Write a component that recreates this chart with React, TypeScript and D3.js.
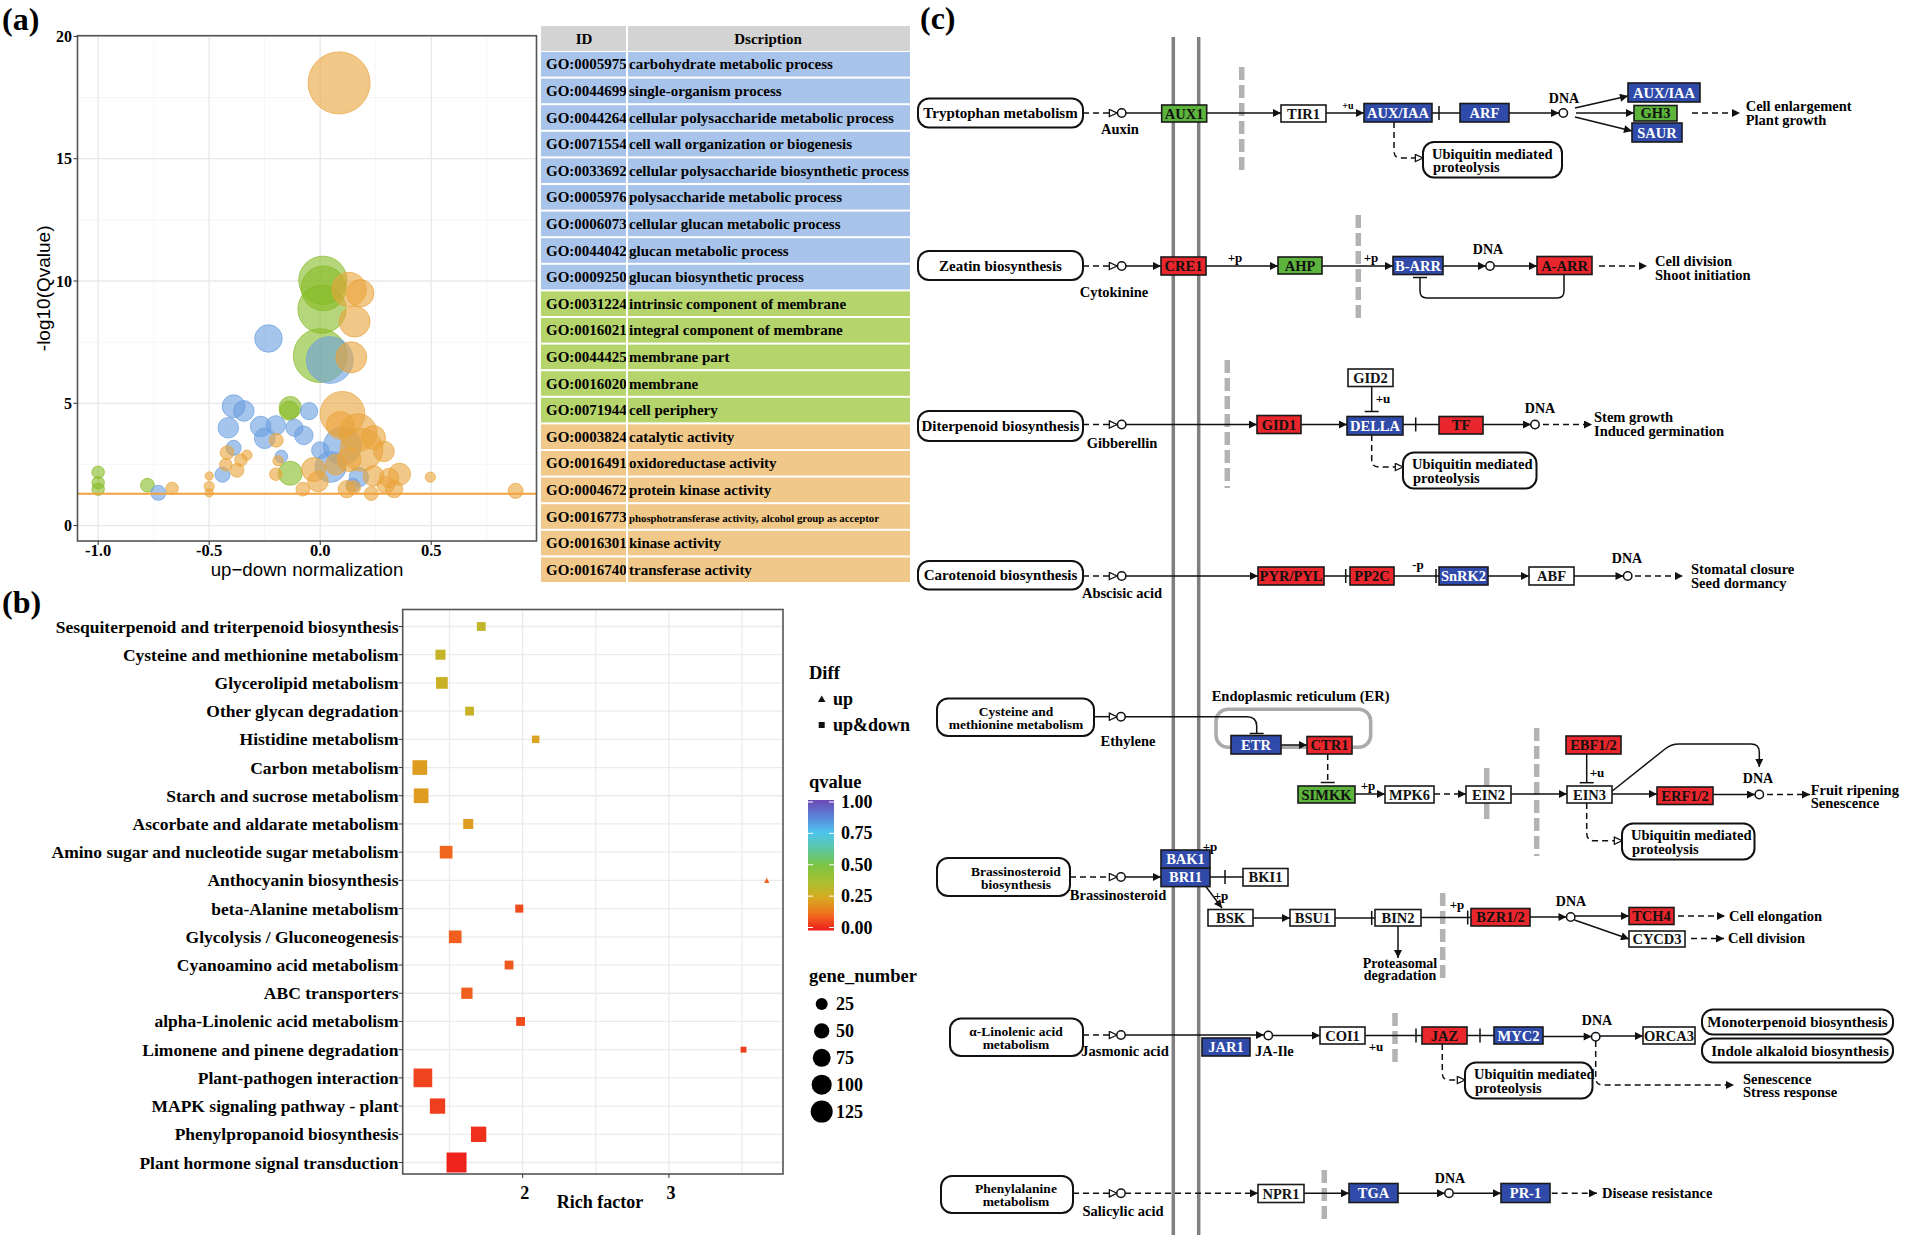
import React from "react";
import * as d3 from "d3";

const SERIF = "'Liberation Serif', 'Times New Roman', serif";
const SANS = "'Liberation Sans', Arial, sans-serif";

// ---------- (a) GO bubble plot: [up-down normalization, -log10(Qvalue), gene count]
const bpBubbles: [number, number, number][] = [
  [0.043, 6.77, 251], [-0.233, 7.65, 87], [-0.39, 4.88, 60], [-0.344, 4.69, 49],
  [-0.414, 4.0, 49], [-0.268, 4.05, 49], [-0.25, 3.57, 49], [-0.2, 4.1, 43],
  [-0.116, 4.0, 34], [-0.074, 3.69, 40], [-0.05, 4.68, 34], [-0.39, 3.18, 26],
  [-0.44, 2.08, 26], [-0.175, 2.83, 18], [0.0, 3.08, 34], [0.047, 2.4, 110],
  [0.1, 3.26, 164], [0.174, 1.98, 43], [0.147, 1.65, 22], [-0.729, 1.34, 26],
];
const ccBubbles: [number, number, number][] = [
  [0.012, 10.03, 267], [0.015, 9.7, 230], [0.008, 8.85, 267], [0.0, 6.95, 332],
  [-0.135, 4.83, 56], [-0.14, 4.7, 43], [-0.135, 2.14, 66], [-1.0, 2.18, 18],
  [-1.0, 1.75, 18], [-1.0, 1.49, 18], [-0.778, 1.65, 22],
];
const mfBubbles: [number, number, number][] = [
  [0.085, 18.1, 441], [0.13, 9.65, 136], [0.18, 9.5, 87], [0.155, 8.34, 110],
  [0.14, 6.88, 110], [0.1, 4.57, 230], [0.17, 3.8, 164], [0.186, 3.1, 209],
  [0.24, 3.6, 66], [0.287, 3.03, 49], [0.09, 4.1, 87], [0.07, 2.49, 49],
  [-0.03, 2.29, 66], [-0.01, 1.8, 49], [-0.078, 1.49, 22], [0.12, 1.49, 34],
  [0.23, 1.31, 22], [0.24, 2.03, 49], [0.31, 1.95, 43], [0.357, 2.1, 56],
  [0.295, 1.65, 34], [0.333, 1.49, 34], [0.496, 1.98, 12], [0.88, 1.42, 26],
  [-0.419, 2.98, 22], [-0.425, 2.49, 18], [-0.375, 2.26, 22], [-0.357, 2.68, 18],
  [-0.33, 2.88, 12], [-0.198, 3.49, 22], [-0.19, 2.65, 12], [-0.2, 2.1, 18],
  [-0.5, 2.03, 8], [-0.5, 1.6, 12], [-0.5, 1.34, 8], [-0.667, 1.52, 18],
  [0.15, 1.55, 22], [0.13, 2.7, 66],
];
const qThreshold = 1.301;

const goIds = [
  "GO:0005975", "GO:0044699", "GO:0044264", "GO:0071554", "GO:0033692",
  "GO:0005976", "GO:0006073", "GO:0044042", "GO:0009250", "GO:0031224",
  "GO:0016021", "GO:0044425", "GO:0016020", "GO:0071944", "GO:0003824",
  "GO:0016491", "GO:0004672", "GO:0016773", "GO:0016301", "GO:0016740",
];
const goDescriptions = [
  "carbohydrate metabolic process", "single-organism process",
  "cellular polysaccharide metabolic process", "cell wall organization or biogenesis",
  "cellular polysaccharide biosynthetic process", "polysaccharide metabolic process",
  "cellular glucan metabolic process", "glucan metabolic process",
  "glucan biosynthetic process", "intrinsic component of membrane",
  "integral component of membrane", "membrane part", "membrane", "cell periphery",
  "catalytic activity", "oxidoreductase activity", "protein kinase activity",
  "phosphotransferase activity, alcohol group as acceptor", "kinase activity",
  "transferase activity",
];
const goCategories = [
  "BP", "BP", "BP", "BP", "BP", "BP", "BP", "BP", "BP",
  "CC", "CC", "CC", "CC", "CC",
  "MF", "MF", "MF", "MF", "MF", "MF",
];

// ---------- (b) KEGG enrichment
const pathways = [
  "Sesquiterpenoid and triterpenoid biosynthesis", "Cysteine and methionine metabolism",
  "Glycerolipid metabolism", "Other glycan degradation", "Histidine metabolism",
  "Carbon metabolism", "Starch and sucrose metabolism", "Ascorbate and aldarate metabolism",
  "Amino sugar and nucleotide sugar metabolism", "Anthocyanin biosynthesis",
  "beta-Alanine metabolism", "Glycolysis / Gluconeogenesis", "Cyanoamino acid metabolism",
  "ABC transporters", "alpha-Linolenic acid metabolism", "Limonene and pinene degradation",
  "Plant-pathogen interaction", "MAPK signaling pathway - plant",
  "Phenylpropanoid biosynthesis", "Plant hormone signal transduction",
];
const richFactor = [1.717, 1.438, 1.448, 1.637, 2.089, 1.297, 1.306, 1.628, 1.477, 3.669,
  1.977, 1.539, 1.907, 1.619, 1.986, 3.51, 1.318, 1.418, 1.699, 1.548];
const qValues = [0.31, 0.3, 0.29, 0.29, 0.24, 0.22, 0.22, 0.22, 0.11, 0.1,
  0.07, 0.1, 0.09, 0.1, 0.07, 0.05, 0.06, 0.05, 0.03, 0.01];
const geneNumbers = [11, 17, 27, 11, 6, 51, 51, 17, 34, 1, 8, 34, 11, 24, 11, 2, 95, 57, 57, 112];
const diffTypes = ["both", "both", "both", "both", "both", "both", "both", "both", "both", "up",
  "both", "both", "both", "both", "both", "both", "both", "both", "both", "both"];
const richTicks = [2, 3];
const qTicks = [1, 0.75, 0.5, 0.25, 0];
const geneLegend = [25, 50, 75, 100, 125];

// ---------- (c) plant hormone signal transduction (gene status)
const upGenes = ["CRE1", "A-ARR", "GID1", "TF", "PYR/PYL", "PP2C", "CTR1", "EBF1/2", "ERF1/2", "BZR1/2", "TCH4", "JAZ"];
const downGenes = ["AUX/IAA", "ARF", "SAUR", "B-ARR", "DELLA", "SnRK2", "ETR", "BAK1", "BRI1", "JAR1", "MYC2", "TGA", "PR-1"];
const mixedGenes = ["AUX1", "GH3", "AHP", "SIMKK"];

// layout of the pathway map: label, x, y, w, h
const geneBoxes: [string, number, number, number, number][] = [
  ["AUX1", 1161.7, 105, 45, 17], ["TIR1", 1281, 105, 45, 17], ["AUX/IAA", 1364, 103.5, 68, 18.5],
  ["ARF", 1460, 103.5, 49, 18.5], ["AUX/IAA", 1628, 83, 72, 19], ["GH3", 1634, 105.5, 43, 15.5],
  ["SAUR", 1632, 123, 50, 19],
  ["CRE1", 1161, 257, 45, 18], ["AHP", 1278, 257, 44, 17], ["B-ARR", 1393, 256.5, 50, 18],
  ["A-ARR", 1537, 256.5, 55, 18],
  ["GID1", 1257, 415.5, 44, 18], ["DELLA", 1347, 416.5, 56, 18.5], ["GID2", 1348, 369, 45, 17.5],
  ["TF", 1439, 416.5, 44, 17.5],
  ["PYR/PYL", 1258, 567, 66, 18], ["PP2C", 1350, 567, 44, 18], ["SnRK2", 1439, 567, 49, 18],
  ["ABF", 1529, 567, 45, 18],
  ["ETR", 1231, 735.5, 50, 18.5], ["CTR1", 1307, 736.5, 45, 17.5], ["SIMKK", 1298, 786, 57, 17],
  ["MPK6", 1385, 786, 49, 17], ["EIN2", 1466, 786, 45, 17], ["EIN3", 1567, 786, 45, 17],
  ["EBF1/2", 1566, 736, 55, 18], ["ERF1/2", 1657, 787, 56, 17.5],
  ["BAK1", 1161, 850, 49, 18.3], ["BRI1", 1161, 868.3, 49, 18.3], ["BKI1", 1243, 868.5, 45, 17.5],
  ["BSK", 1208, 909.5, 45, 16.5], ["BSU1", 1290, 909.5, 45, 16.5], ["BIN2", 1375, 909.5, 46, 16.5],
  ["BZR1/2", 1471, 908.5, 59, 17.5], ["TCH4", 1629, 907.5, 45, 17], ["CYCD3", 1629, 931, 56, 16],
  ["JAR1", 1202, 1038, 48, 18], ["COI1", 1320, 1027, 45, 17], ["JAZ", 1422, 1027, 45, 17],
  ["MYC2", 1494, 1027, 49, 17], ["ORCA3", 1643, 1027, 52, 17],
  ["NPR1", 1258, 1184.5, 46, 18], ["TGA", 1349, 1183.5, 49, 19], ["PR-1", 1501, 1183.5, 49, 19],
];

const mapBoxes: [string[], number, number, number, number, number][] = [
  [["Tryptophan metabolism"], 918, 98.5, 165, 29, 1000.5],
  [["Zeatin biosynthesis"], 918, 251, 165, 29, 1000.5],
  [["Diterpenoid biosynthesis"], 918, 411, 165, 30, 1000.5],
  [["Carotenoid biosynthesis"], 918, 561, 165, 28.5, 1000.5],
  [["Cysteine and", "methionine metabolism"], 937, 698.5, 157, 37.5, 1016],
  [["Brassinosteroid", "biosynthesis"], 937, 858, 133, 38, 1016],
  [["α-Linolenic acid", "metabolism"], 950, 1018.5, 133, 37.5, 1016],
  [["Phenylalanine", "metabolism"], 941, 1176, 132, 37, 1016],
  [["Monoterpenoid biosynthesis"], 1702, 1009.5, 191, 25, 1797.5],
  [["Indole alkaloid biosynthesis"], 1702, 1038.5, 191, 24, 1800],
];
const ubiquitinBoxes: [number, number, number, number][] = [
  [1423, 142, 139, 35.5], [1403, 452.5, 133.5, 36], [1622, 823.5, 132.5, 36], [1465, 1062.5, 127.5, 36],
];
const compounds: [number, number][] = [
  [1121.7, 113], [1563.3, 113], [1121.7, 266], [1490, 266], [1121.7, 424.5], [1535, 424.5],
  [1121.7, 576], [1627.7, 576], [1121, 716.7], [1759.3, 794.5], [1121, 877], [1570.7, 917],
  [1121, 1035], [1268.3, 1035.5], [1595.7, 1036.7], [1121, 1193.3], [1449, 1193.3],
];

type Edge = { d: string; dash?: boolean; end?: "arrow" | "open" };
const edges: Edge[] = [
  { d: "M1083,113 H1117", dash: true, end: "open" }, { d: "M1126,113 H1161.7" },
  { d: "M1206.7,113 H1281", end: "arrow" }, { d: "M1326,113 H1364", end: "arrow" },
  { d: "M1432,113 H1460" }, { d: "M1509,113 H1559", end: "arrow" },
  { d: "M1575,108 L1628,96", end: "arrow" }, { d: "M1576,113 H1634", end: "arrow" },
  { d: "M1575,117 L1632,131", end: "arrow" }, { d: "M1692,113 H1740", dash: true, end: "arrow" },
  { d: "M1394,122 V151 Q1394,158 1401,158 H1423", dash: true, end: "open" },

  { d: "M1083,266 H1117", dash: true, end: "open" }, { d: "M1126,266 H1161", end: "arrow" },
  { d: "M1206,266 H1278", end: "arrow" }, { d: "M1322,266 H1393", end: "arrow" },
  { d: "M1443,266 H1486", end: "arrow" }, { d: "M1494,266 H1537", end: "arrow" },
  { d: "M1599,266 H1647", dash: true, end: "arrow" },
  { d: "M1564,274.5 V291 Q1564,298 1557,298 H1427 Q1420,298 1420,291 V278" },

  { d: "M1083,424.5 H1117", dash: true, end: "open" }, { d: "M1126,424.5 H1257", end: "arrow" },
  { d: "M1301,424.5 H1347", end: "arrow" }, { d: "M1371.7,386.5 V411.5" },
  { d: "M1403,424.5 H1439" }, { d: "M1483,424.5 H1531", end: "arrow" },
  { d: "M1543,424.5 H1592", dash: true, end: "arrow" },
  { d: "M1371.7,435 V460 Q1371.7,467 1379,467 H1403", dash: true, end: "open" },

  { d: "M1083,576 H1117", dash: true, end: "open" }, { d: "M1126,576 H1258", end: "arrow" },
  { d: "M1324,576 H1350" }, { d: "M1394,576 H1439" }, { d: "M1488,576 H1529", end: "arrow" },
  { d: "M1574,576 H1623.5", end: "arrow" }, { d: "M1635,576 H1683", dash: true, end: "arrow" },

  { d: "M1094,716.7 H1117", end: "open" },
  { d: "M1125,716.7 H1247 Q1256.7,716.7 1256.7,726 V733" },
  { d: "M1281,745 H1307", end: "arrow" }, { d: "M1327.7,754 V782", dash: true },
  { d: "M1355,794 H1385", end: "arrow" }, { d: "M1434,794 H1466", dash: true, end: "arrow" },
  { d: "M1511,794 H1567", end: "arrow" }, { d: "M1586.7,754 V782.5" },
  { d: "M1612,794 H1657", end: "arrow" }, { d: "M1713,794.5 H1755", end: "arrow" },
  { d: "M1612.3,791 L1665,749 Q1671,744 1679,744 H1751 Q1759.3,744 1759.3,752 V767", end: "arrow" },
  { d: "M1767,794.5 H1810", dash: true, end: "arrow" },
  { d: "M1586.7,803 V833 Q1586.7,840.7 1594,840.7 H1622", dash: true, end: "open" },

  { d: "M1070,877 H1117", dash: true, end: "open" }, { d: "M1125,877 H1161", end: "arrow" },
  { d: "M1210,877 H1243" }, { d: "M1206,886.7 L1222,908", end: "arrow" },
  { d: "M1253,918 H1290", end: "arrow" }, { d: "M1335,918 H1375" }, { d: "M1421,917.5 H1471" },
  { d: "M1530,917 H1566.5", end: "arrow" }, { d: "M1575,916 H1629", end: "arrow" },
  { d: "M1574.5,920 L1629,939", end: "arrow" }, { d: "M1678,916 H1725", dash: true, end: "arrow" },
  { d: "M1691,938.5 H1724", dash: true, end: "arrow" }, { d: "M1398,926 V958", end: "arrow" },

  { d: "M1083,1035 H1117", dash: true, end: "open" }, { d: "M1125,1035 H1264", end: "arrow" },
  { d: "M1272.5,1035.5 H1320", end: "arrow" }, { d: "M1365,1035.5 H1422" },
  { d: "M1467,1035.5 H1494" }, { d: "M1543,1036.5 H1591.7", end: "arrow" },
  { d: "M1600,1036 H1643", end: "arrow" },
  { d: "M1442.3,1044 V1073 Q1442.3,1080 1449,1080 H1465", dash: true, end: "open" },
  { d: "M1595.7,1041 V1078 Q1595.7,1085 1603,1085 H1734", dash: true, end: "arrow" },

  { d: "M1073,1193.3 H1117", dash: true, end: "open" }, { d: "M1125,1193.3 H1258", dash: true, end: "arrow" },
  { d: "M1304,1193.3 H1349", end: "arrow" }, { d: "M1398,1193.3 H1445", end: "arrow" },
  { d: "M1453,1193.3 H1501", end: "arrow" }, { d: "M1551.7,1193.3 H1597", dash: true, end: "arrow" },
];
// inhibition bars: x, y, orientation
const bars: [number, number, "v" | "h"][] = [
  [1439, 113, "v"], [1420, 277.5, "h"], [1371.7, 411.5, "h"], [1415.7, 424.5, "v"],
  [1345.7, 576, "v"], [1436, 576, "v"], [1256.7, 733.5, "h"], [1327.7, 782.5, "h"],
  [1586.7, 782.7, "h"], [1225, 877, "v"], [1371.7, 918, "v"], [1467.7, 917.5, "v"],
  [1416, 1035.5, "v"], [1480, 1035.5, "v"],
];
const envelopes: [number, number, number, boolean][] = [
  [1241.7, 67, 173, true], [1358.3, 215, 323, true], [1227.3, 360, 488, true],
  [1486.7, 768, 819, false], [1536.7, 728, 856, true], [1442.7, 893, 983, true],
  [1395, 1013, 1063, true], [1324.3, 1170, 1221, true],
];
const labels: [string, number, number, "start" | "middle", number][] = [
  ["Auxin", 1120, 134, "middle", 14.5], ["Cytokinine", 1114, 297, "middle", 14.5],
  ["Gibberellin", 1122, 448, "middle", 14.5], ["Abscisic acid", 1122, 598, "middle", 14.5],
  ["Ethylene", 1128, 746, "middle", 14.5], ["Brassinosteroid", 1118, 900, "middle", 14.5],
  ["Jasmonic acid", 1125, 1056, "middle", 14.5], ["JA-Ile", 1255, 1056, "start", 14.5],
  ["Salicylic acid", 1123, 1216, "middle", 14.5],
  ["DNA", 1564, 103, "middle", 14], ["DNA", 1488, 254, "middle", 14], ["DNA", 1540, 413, "middle", 14],
  ["DNA", 1627, 563, "middle", 14], ["DNA", 1758, 783, "middle", 14], ["DNA", 1571, 906, "middle", 14],
  ["DNA", 1597, 1025, "middle", 14], ["DNA", 1450, 1183, "middle", 14],
  ["+u", 1348, 109, "middle", 10], ["+p", 1235, 262, "middle", 13], ["+p", 1371, 262, "middle", 13],
  ["+u", 1383, 403, "middle", 13], ["-p", 1418, 569, "middle", 13], ["+p", 1368, 790, "middle", 13],
  ["+u", 1597, 777, "middle", 13], ["+p", 1210, 851, "middle", 13], ["+p", 1221, 900, "middle", 13],
  ["+p", 1457, 909, "middle", 13], ["+u", 1376, 1051, "middle", 13],
  ["Cell enlargement", 1745.7, 111, "start", 14.5], ["Plant growth", 1745.7, 124.5, "start", 14.5],
  ["Cell division", 1655, 265.5, "start", 14.5], ["Shoot initiation", 1655, 279.5, "start", 14.5],
  ["Stem growth", 1594, 421.5, "start", 14.5], ["Induced germination", 1594, 435.5, "start", 14.5],
  ["Stomatal closure", 1691, 573.5, "start", 14.5], ["Seed dormancy", 1691, 588, "start", 14.5],
  ["Fruit ripening", 1810.7, 795, "start", 14.5], ["Senescence", 1810.7, 807.5, "start", 14.5],
  ["Cell elongation", 1729, 920.5, "start", 14.5], ["Cell division", 1728, 943, "start", 14.5],
  ["Proteasomal", 1400, 968, "middle", 14], ["degradation", 1400, 980, "middle", 14],
  ["Senescence", 1743, 1083.5, "start", 14.5], ["Stress response", 1743, 1097, "start", 14.5],
  ["Disease resistance", 1602, 1198, "start", 14.5],
  ["Endoplasmic reticulum (ER)", 1211.7, 701, "start", 14.5],
];

const groupColor: Record<string, string> = { BP: "#6a9ee0", CC: "#86bb25", MF: "#eaa43a" };
const tableFill: Record<string, string> = { BP: "#a9c4ea", CC: "#b6d46c", MF: "#f0c98a" };

function PanelA() {
  const x = d3.scaleLinear().domain([-1.093, 0.974]).range([77.5, 536.5]);
  const y = d3.scaleLinear().domain([-0.63, 20.03]).range([541, 35.7]);
  const r = d3.scaleSqrt().domain([0, 500]).range([0, 33]);
  const [x0, x1] = x.range();
  const [y0, y1] = y.range();
  const groups: [string, [number, number, number][]][] = [["CC", ccBubbles], ["BP", bpBubbles], ["MF", mfBubbles]];
  const rowH = 26.6;
  const tTop = 52;
  return (
    <g>
      <text x={2} y={30} fontSize={32} fontWeight="bold">(a)</text>
      {[-0.75, -0.25, 0.25, 0.75].map((v) => (
        <line key={"mx" + v} x1={x(v)} x2={x(v)} y1={y0} y2={y1} stroke="#f2f2f2" strokeWidth={0.7} />
      ))}
      {[2.5, 7.5, 12.5, 17.5].map((v) => (
        <line key={"my" + v} x1={x0} x2={x1} y1={y(v)} y2={y(v)} stroke="#f2f2f2" strokeWidth={0.7} />
      ))}
      {[-1, -0.5, 0, 0.5].map((v) => (
        <line key={"gx" + v} x1={x(v)} x2={x(v)} y1={y0} y2={y1} stroke="#e8e8e8" strokeWidth={1.3} />
      ))}
      {[0, 5, 10, 15, 20].map((v) => (
        <line key={"gy" + v} x1={x0} x2={x1} y1={y(v)} y2={y(v)} stroke="#e8e8e8" strokeWidth={1.3} />
      ))}
      {groups.map(([g, pts]) =>
        pts.map((p, i) => (
          <circle key={g + i} cx={x(p[0])} cy={y(p[1])} r={r(p[2])} fill={groupColor[g]}
            fillOpacity={0.6} stroke={groupColor[g]} strokeOpacity={0.7} strokeWidth={1} />
        ))
      )}
      <line x1={x0} x2={x1} y1={y(qThreshold)} y2={y(qThreshold)} stroke="#f2a23c" strokeWidth={1.8} />
      <rect x={x0} y={y1} width={x1 - x0} height={y0 - y1} fill="none" stroke="#555" strokeWidth={1.6} />
      {[0, 5, 10, 15, 20].map((v) => (
        <g key={"ty" + v}>
          <line x1={x0 - 4} x2={x0} y1={y(v)} y2={y(v)} stroke="#333" />
          <text x={x0 - 5.5} y={y(v) + 5.5} textAnchor="end" fontSize={16} fontWeight="bold">{v}</text>
        </g>
      ))}
      {[-1, -0.5, 0, 0.5].map((v) => (
        <g key={"tx" + v}>
          <line x1={x(v)} x2={x(v)} y1={y0} y2={y0 + 4} stroke="#333" />
          <text x={x(v)} y={y0 + 15} textAnchor="middle" fontSize={16.5} fontWeight="bold">{d3.format(".1f")(v).replace("−", "-")}</text>
        </g>
      ))}
      <text x={(x0 + x1) / 2} y={576} textAnchor="middle" fontFamily={SANS} fontSize={18.7}>up−down normalization</text>
      <text transform={`translate(50,${(y0 + y1) / 2}) rotate(-90)`} textAnchor="middle" fontFamily={SANS} fontSize={19}>-log10(Qvalue)</text>

      <rect x={541} y={26} width={369} height={25} fill="#d3d3d3" />
      <text x={584} y={44} textAnchor="middle" fontSize={15} fontWeight="bold">ID</text>
      <text x={768} y={44} textAnchor="middle" fontSize={15} fontWeight="bold">Dscription</text>
      {goIds.map((id, i) => {
        const ty = tTop + i * rowH;
        return (
          <g key={id}>
            <rect x={541} y={ty} width={369} height={rowH - 2} fill={tableFill[goCategories[i]]} />
            <text x={546} y={ty + rowH / 2 + 4} fontSize={15} fontWeight="bold">{id}</text>
            <text x={629} y={ty + rowH / 2 + 4} fontSize={goDescriptions[i].length > 46 ? 10.8 : 15} fontWeight="bold">{goDescriptions[i]}</text>
          </g>
        );
      })}
      <line x1={627} x2={627} y1={26} y2={tTop + 20 * rowH} stroke="#fff" strokeWidth={2} />
    </g>
  );
}

function PanelB() {
  const x = d3.scaleLinear().domain([1.18, 3.78]).range([402.7, 783]);
  const y = d3.scalePoint<string>().domain(pathways).range([626.5, 1162.5]);
  const [x0, x1] = x.range();
  const top = 609.5, bottom = 1174;
  const diam = d3.scaleLinear().domain([5, Math.sqrt(125)]).range([12, 22]);
  const qColor = d3.scaleLinear<string>()
    .domain([0, 0.125, 0.25, 0.375, 0.5, 0.625, 0.75, 0.875, 1])
    .range(["#ee1c1c", "#f0701e", "#d8aa22", "#a8c030", "#7cc444", "#5ac8a0", "#4ec4ee", "#5a82d8", "#6c48b4"]);
  const cy = d3.scaleLinear().domain([0, 1]).range([927.5, 802]);
  const stops = d3.range(0, 1.0001, 0.05);
  return (
    <g>
      <text x={2} y={613} fontSize={32} fontWeight="bold">(b)</text>
      <defs>
        <linearGradient id="qgrad" x1="0" y1="1" x2="0" y2="0">
          {stops.map((s) => <stop key={s} offset={`${s * 100}%`} stopColor={qColor(s)} />)}
        </linearGradient>
      </defs>
      {[1.5, 2, 2.5, 3, 3.5].map((v) => (
        <line key={"gx" + v} x1={x(v)} x2={x(v)} y1={top} y2={bottom} stroke="#ebebeb" strokeWidth={1.3} />
      ))}
      {pathways.map((p) => (
        <line key={"gy" + p} x1={x0} x2={x1} y1={y(p)} y2={y(p)} stroke="#ebebeb" strokeWidth={1.3} />
      ))}
      {pathways.map((p, i) => {
        const s = diam(Math.sqrt(geneNumbers[i])) * 0.95;
        const px = x(richFactor[i]);
        const py = y(p)!;
        if (diffTypes[i] === "up") {
          return <path key={p} d={`M${px},${py - s / 2} L${px + s / 2},${py + s / 2} L${px - s / 2},${py + s / 2} Z`} fill={qColor(qValues[i])} />;
        }
        return <rect key={p} x={px - s / 2} y={py - s / 2} width={s} height={s} fill={qColor(qValues[i])} />;
      })}
      <rect x={x0} y={top} width={x1 - x0} height={bottom - top} fill="none" stroke="#555" strokeWidth={1.6} />
      {pathways.map((p) => (
        <g key={"t" + p}>
          <line x1={x0 - 4} x2={x0} y1={y(p)} y2={y(p)} stroke="#333" />
          <text x={398.5} y={y(p)! + 6} textAnchor="end" fontSize={17.5} fontWeight="bold">{p}</text>
        </g>
      ))}
      {richTicks.map((v) => (
        <g key={"rt" + v}>
          <line x1={x(v)} x2={x(v)} y1={bottom} y2={bottom + 4} stroke="#333" />
          <text x={x(v) + 2} y={1199} textAnchor="middle" fontSize={18} fontWeight="bold">{v}</text>
        </g>
      ))}
      <text x={600} y={1208} textAnchor="middle" fontSize={18} fontWeight="bold">Rich factor</text>

      <text x={809} y={679} fontSize={18.5} fontWeight="bold">Diff</text>
      <path d="M821.7,695.5 L825.5,702 L817.9,702 Z" fill="#111" />
      <text x={833} y={705} fontSize={18} fontWeight="bold">up</text>
      <rect x={818.7} y={722} width={6} height={6} fill="#111" />
      <text x={833} y={731} fontSize={18} fontWeight="bold">up&amp;down</text>

      <text x={809} y={788} fontSize={18.5} fontWeight="bold">qvalue</text>
      <rect x={808} y={cy(1) - 2} width={26} height={cy(0) - cy(1) + 5} fill="url(#qgrad)" />
      {qTicks.map((q) => (
        <g key={"q" + q}>
          <line x1={808} x2={813} y1={cy(q)} y2={cy(q)} stroke="#fff" strokeWidth={1} />
          <line x1={829} x2={834} y1={cy(q)} y2={cy(q)} stroke="#fff" strokeWidth={1} />
          <text x={841} y={cy(q) + 6} fontSize={18} fontWeight="bold">{q.toFixed(2)}</text>
        </g>
      ))}

      <text x={809} y={982} fontSize={18.5} fontWeight="bold">gene_number</text>
      {geneLegend.map((n, i) => (
        <g key={"g" + n}>
          <circle cx={821.7} cy={1004 + i * 26.9} r={diam(Math.sqrt(n)) / 2} fill="#000" />
          <text x={836} y={1004 + i * 26.9 + 6} fontSize={18} fontWeight="bold">{n}</text>
        </g>
      ))}
    </g>
  );
}

function geneFill(label: string) {
  if (upGenes.includes(label)) return "#e8262b";
  if (downGenes.includes(label)) return "#2f4aa8";
  if (mixedGenes.includes(label)) return "#5cb43c";
  return "#fff";
}

function PanelC() {
  return (
    <g>
      <defs>
        <marker id="arr" viewBox="0 0 10 10" refX={10} refY={5} markerWidth={9} markerHeight={8}
          markerUnits="userSpaceOnUse" orient="auto">
          <path d="M0,0 L10,5 L0,10 Z" fill="#111" />
        </marker>
        <marker id="open" viewBox="0 0 10 10" refX={9.5} refY={5} markerWidth={10} markerHeight={9}
          markerUnits="userSpaceOnUse" orient="auto">
          <path d="M1,1 L9.5,5 L1,9 Z" fill="#fff" stroke="#111" strokeWidth={1.4} />
        </marker>
      </defs>
      <text x={920} y={29} fontSize={32} fontWeight="bold">(c)</text>
      <line x1={1173.3} x2={1173.3} y1={37} y2={1235} stroke="#808080" strokeWidth={3.5} />
      <line x1={1198.7} x2={1198.7} y1={37} y2={1235} stroke="#808080" strokeWidth={3.5} />
      {envelopes.map(([ex, ya, yb, dashed], i) => (
        <line key={"env" + i} x1={ex} x2={ex} y1={ya} y2={yb} stroke="#b3b3b3" strokeWidth={5.5}
          strokeDasharray={dashed ? "13 5" : undefined} />
      ))}
      <rect x={1216} y={709.3} width={154.7} height={38} rx={12} fill="none" stroke="#aaa" strokeWidth={3.5} />
      {edges.map((e, i) => (
        <path key={"e" + i} d={e.d} fill="none" stroke="#111" strokeWidth={1.5}
          strokeDasharray={e.dash ? "6 4" : undefined}
          markerEnd={e.end ? `url(#${e.end === "arrow" ? "arr" : "open"})` : undefined} />
      ))}
      {bars.map(([bx, by, o], i) => (
        o === "v"
          ? <line key={"b" + i} x1={bx} x2={bx} y1={by - 7} y2={by + 7} stroke="#111" strokeWidth={1.5} />
          : <line key={"b" + i} x1={bx - 7} x2={bx + 7} y1={by} y2={by} stroke="#111" strokeWidth={1.5} />
      ))}
      {compounds.map(([ccx, ccy], i) => (
        <circle key={"c" + i} cx={ccx} cy={ccy} r={4.2} fill="#fff" stroke="#111" strokeWidth={1.5} />
      ))}
      {mapBoxes.map(([lines, bx, by, bw, bh, tx], i) => (
        <g key={"m" + i}>
          <rect x={bx} y={by} width={bw} height={bh} rx={11} fill="#fff" stroke="#111" strokeWidth={2} />
          {lines.map((l, j) => (
            <text key={j} x={tx} textAnchor="middle" fontSize={lines.length > 1 ? 13.5 : 15} fontWeight="bold"
              y={lines.length > 1 ? by + bh / 2 - 1.5 + j * 13 : by + bh / 2 + 5}>{l}</text>
          ))}
        </g>
      ))}
      {ubiquitinBoxes.map(([bx, by, bw, bh], i) => (
        <g key={"u" + i}>
          <rect x={bx} y={by} width={bw} height={bh} rx={11} fill="#fff" stroke="#111" strokeWidth={2} />
          <text x={bx + 9} y={by + 16.5} fontSize={14.5} fontWeight="bold">Ubiquitin mediated</text>
          <text x={bx + 10} y={by + 30} fontSize={14.5} fontWeight="bold">proteolysis</text>
        </g>
      ))}
      {geneBoxes.map(([label, bx, by, bw, bh], i) => {
        const fill = geneFill(label);
        return (
          <g key={"g" + i}>
            <rect x={bx} y={by} width={bw} height={bh} fill={fill} stroke="#1a1a1a" strokeWidth={1.6} />
            <text x={bx + bw / 2} y={by + bh / 2 + 5} textAnchor="middle" fontSize={14.5} fontWeight="bold"
              fill={fill === "#2f4aa8" ? "#fff" : "#111"}>{label}</text>
          </g>
        );
      })}
      {labels.map(([t, lx, ly, anchor, size], i) => (
        <text key={"l" + i} x={lx} y={ly} textAnchor={anchor} fontSize={size} fontWeight="bold">{t}</text>
      ))}
    </g>
  );
}

export default function App() {
  return (
    <svg width={1905} height={1239} fontFamily={SERIF}
      style={{ position: "absolute", left: 0, top: 0, background: "#fff" }}>
      <rect width={1905} height={1239} fill="#fff" />
      <PanelA />
      <PanelB />
      <PanelC />
    </svg>
  );
}
